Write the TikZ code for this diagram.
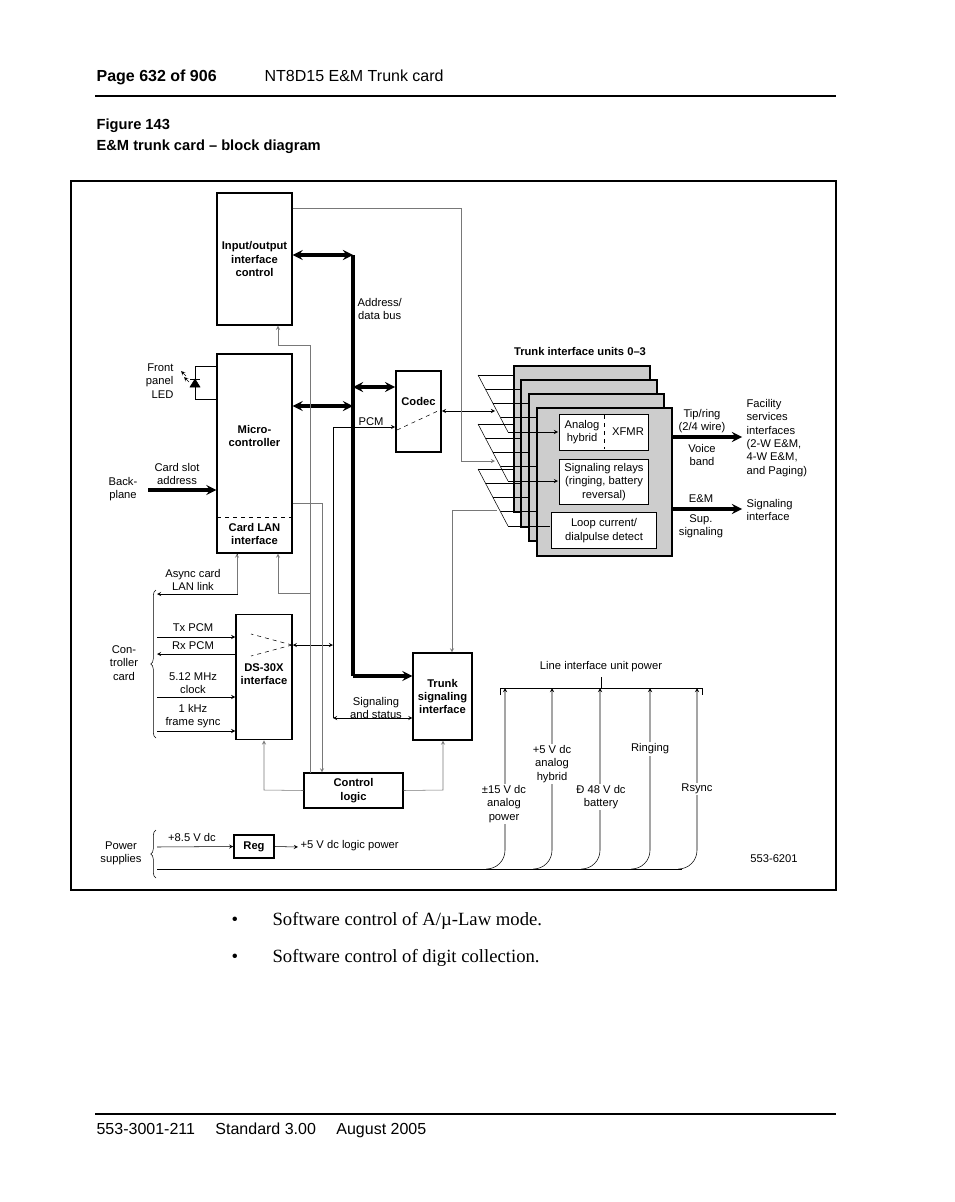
\documentclass[tikz,border=0pt]{standalone}
\usepackage{fontspec}
\setmainfont{Liberation Sans}
\newfontfamily\serifrm{Liberation Serif}
\usetikzlibrary{shapes,arrows,positioning,calc,decorations.pathreplacing}
\definecolor{linegray}{RGB}{120,120,120}
\definecolor{unitgray}{RGB}{205,205,205}

\begin{document}
\begin{tikzpicture}[
    x=0.75pt, y=-0.75pt,
    every node/.style={font=\fontsize{8.4}{10}\selectfont, inner sep=1pt, align=center},
    block/.style={draw, line width=1.1pt, fill=white, font=\fontsize{8.4}{10}\selectfont\bfseries},
    unit/.style={draw, line width=1.1pt, fill=unitgray},
    inner/.style={draw, thin, fill=white},
    sig/.style={->, >=stealth, thin},
    gsig/.style={->, >=stealth, thin, linegray},
    bus/.style={<->, >=stealth, line width=2.3pt},
    fat/.style={->, >=stealth, line width=2.3pt},
    lbl/.style={fill=white, inner sep=1pt}
]
\useasboundingbox (0,0) rectangle (954,1202);

% Page header
\node[anchor=base west, font=\fontsize{12}{14}\selectfont\bfseries] (pg) at (95,82) {Page 632 of 906};
\node[anchor=base west, font=\fontsize{12}{14}\selectfont] (ttl) at (263,82) {NT8D15 E\&M Trunk card};
\draw[line width=0.9pt] (95,96) -- (836,96);
\node[anchor=base west, font=\fontsize{11}{13}\selectfont\bfseries] (fig) at (95,130) {Figure 143};
\node[anchor=base west, font=\fontsize{11}{13}\selectfont\bfseries] (figt) at (95,151) {E\&M trunk card -- block diagram};
\draw[line width=0.9pt] (71,181) rectangle (836,890);

% Blocks
\node[block, minimum width=56pt, minimum height=99pt] (ioc) at (254.5,259) {Input/output\\interface\\control};
\node[block, minimum width=56pt, minimum height=149pt] (mcu) at (254.5,453.5) {};
\node[font=\fontsize{8.4}{10}\selectfont\bfseries] (mcut) at (254.5,436) {Micro-\\controller};
\draw[dashed] (217,517) -- (292,517);
\node[font=\fontsize{8.4}{10}\selectfont\bfseries] (lan) at (254.5,534) {Card LAN\\interface};
\node[block, minimum width=34pt, minimum height=61pt] (codec) at (418.5,411.5) {};
\node[font=\fontsize{8.4}{10}\selectfont\bfseries] at (418.5,401) {Codec};
\draw[dashed] (397,430) -- (440,410);
\node[block, minimum width=42pt, minimum height=94pt] (ds) at (264,677) {};
\node[font=\fontsize{8.4}{10}\selectfont\bfseries] at (264,674) {DS-30X\\interface};
\draw[dashed] (292,645) -- (251,634) (292,645) -- (251,656);
\node[block, minimum width=44pt, minimum height=65pt] (tsi) at (442.5,696.5) {Trunk\\signaling\\interface};
\node[block, minimum width=74pt, minimum height=26pt] (ctl) at (353.5,790.5) {Control\\logic};
\node[block, minimum width=30pt, minimum height=17pt] (reg) at (254,846.5) {Reg};

% Trunk interface units
\node[font=\fontsize{8.4}{10}\selectfont\bfseries] (tiu) at (580,352) {Trunk interface units 0--3};
\draw[unit] (514,366) rectangle (650,512);
\draw[unit] (521,380) rectangle (657,527);
\draw[unit] (529,394) rectangle (664,541);
\draw[unit] (537,408) rectangle (672,556);
\node[inner, minimum width=67pt, minimum height=27pt] (hyb) at (604,432) {};
\node (hybt) at (582,432) {Analog\\hybrid};
\node (xfmr) at (628,432) {XFMR};
\draw[dashed] (604,415) -- (604,449);
\node[inner, minimum width=67pt, minimum height=34pt] (rly) at (604,482) {Signaling relays\\(ringing, battery\\reversal)};
\node[inner, minimum width=79pt, minimum height=27pt] (loop) at (604,530.5) {Loop current/\\dialpulse detect};

% Fan-in lines
\foreach \ya/\tx/\arr in {375/558/->, 424/558/->, 469/550/-}{
  \draw[thin] (478,\ya) -- (508,\ya+57);
  \foreach \k/\bx in {0/514,1/521,2/529,3/537}
    \draw[thin] ({478+30*\k/4},{\ya+57*\k/4}) -- (\bx,{\ya+57*\k/4});
  \draw[thin, \arr, >=stealth] (508,\ya+57) -- (\tx,\ya+57);
}

% Address/data bus
\coordinate (bt) at (353,255);
\coordinate (bb) at (353,676);
\draw[line width=2.3pt] (bt) -- (bb);
\draw[bus] (ioc.east |- bt) -- (bt);
\draw[bus] (mcu.east |- 0,406) -- (353,406);
\draw[bus] (353,387) -- (codec.west |- 0,387);
\draw[fat] (353,676) -- (tsi.west |- 0,676);
\node[anchor=west] (adb) at (356,309) {Address/\\data bus};

% PCM and signaling
\draw[sig] (333,718) -- (333,427) -- (codec.west |- 0,427);
\node[anchor=south west] at (357,427) {PCM};
\draw[<->, >=stealth, thin] (ds.east |- 0,645) -- (333,645);
\draw[<->, >=stealth, thin] (333,718) -- (tsi.west |- 0,718);
\node (sst) at (376,708) {Signaling\\and status};
\draw[<->, >=stealth, thin] (codec.east |- 0,411) -- (495,411);
\draw[gsig] (ioc.east |- 0,208) -- (461,208) -- (461,461) -- (495,461);
\draw[gsig] (497,510) -- (452,510) -- (tsi.north -| 452,0);

% Micro / IO / control wiring
\draw[gsig] (310,773) -- (310,345) -- (278,345) -- (ioc.south -| 278,0);
\draw[gsig] (310,593) -- (278,593) -- (mcu.south -| 278,0);
\draw[gsig] (mcu.east |- 0,503) -- (322,503) -- (ctl.north -| 322,0);
\draw[gsig] (ctl.west) -- (264,790) -- (ds.south);
\draw[gsig] (ctl.east) -- (443,790) -- (tsi.south -| 443,0);
\draw[sig] (237,553) -- (237,594) -- (157,594);
\draw[gsig] (237,594) -- (mcu.south -| 237,0);
\node (async) at (193,580) {Async card\\LAN link};

% Front panel LED
\draw[thin] (217,366) -- (195,366) -- (195,399) -- (217,399);
\draw[fill=black] (190,387) -- (200,387) -- (195,379) -- cycle;
\draw[thin] (190,379) -- (200,379);
\draw[->, >=stealth, thin] (186,376) -- (181,371);
\draw[->, >=stealth, thin] (189,382) -- (184,377);
\node[align=right, anchor=east] (led) at (175,381) {Front\\panel\\LED};

% Backplane
\draw[fat] (148,490) -- (mcu.west |- 0,490);
\node (slot) at (177,474) {Card slot\\address};
\node (bp) at (123,489) {Back-\\plane};

% Controller card
\draw[decorate, decoration={brace, amplitude=4pt}] (156,738) -- (156,590);
\node (ctr) at (124,663) {Con-\\troller\\card};
\draw[sig] (157,637) -- (ds.west |- 0,637);
\draw[sig] (ds.west |- 0,654) -- (157,654);
\draw[sig] (157,697) -- (ds.west |- 0,697);
\draw[sig] (157,731) -- (ds.west |- 0,731);
\node at (193,628) {Tx PCM};
\node at (193,646) {Rx PCM};
\node at (193,683) {5.12 MHz\\clock};
\node at (193,716) {1 kHz\\frame sync};

% Right outputs
\draw[fat] (672,437) -- (742,437);
\draw[fat] (672,509) -- (742,509);
\node at (702,421) {Tip/ring\\(2/4 wire)};
\node at (702,455) {Voice\\band};
\node at (701,499) {E\&M};
\node at (701,526) {Sup.\\signaling};
\node[anchor=west, align=left] (fac) at (745,438) {Facility\\services\\interfaces\\(2-W E\&M,\\4-W E\&M,\\and Paging)};
\node[anchor=west, align=left] (sgi) at (745,510) {Signaling\\interface};

% Power
\draw[decorate, decoration={brace, amplitude=4pt}] (156,878) -- (156,830);
\node (pwr) at (121,853) {Power\\supplies};
\draw[sig] (157,847) -- (reg.west);
\node at (192,837) {+8.5 V dc};
\draw[sig] (reg.east) -- (298,847);
\node[anchor=west] at (299,846) {+5 V dc logic power};
\draw[thin] (157,869) -- (682,869);
\foreach \px in {505,552,600,650,697}
  \draw[sig, rounded corners=14pt] (\px-18,869) -| (\px,688);
\draw[thin] (500,695) -- (500,688) -- (702,688) -- (702,695);
\draw[thin] (601,688) -- (601,677);
\node (lip) at (601,667) {Line interface unit power};
\node[lbl] at (504,804) {±15 V dc\\analog\\power};
\node[lbl] at (552,764) {+5 V dc\\analog\\hybrid};
\node[lbl] at (601,797) {Ð 48 V dc\\battery};
\node[lbl] at (650,749) {Ringing};
\node[lbl] at (697,789) {Rsync};
\node at (774,859) {553-6201};

% Body text
\node[anchor=base west, font=\serifrm\fontsize{14}{16}\selectfont] at (230,925) {•};
\node[anchor=base west, font=\serifrm\fontsize{14}{16}\selectfont] (b1) at (271,925) {Software control of A/µ-Law mode.};
\node[anchor=base west, font=\serifrm\fontsize{14}{16}\selectfont] at (230,962) {•};
\node[anchor=base west, font=\serifrm\fontsize{14}{16}\selectfont] (b2) at (271,962) {Software control of digit collection.};

% Footer
\draw[line width=0.9pt] (95,1114) -- (836,1114);
\node[anchor=base west, font=\fontsize{12}{14}\selectfont] (foot) at (95,1134) {553-3001-211 \quad Standard 3.00 \quad August 2005};
\end{tikzpicture}
\end{document}
